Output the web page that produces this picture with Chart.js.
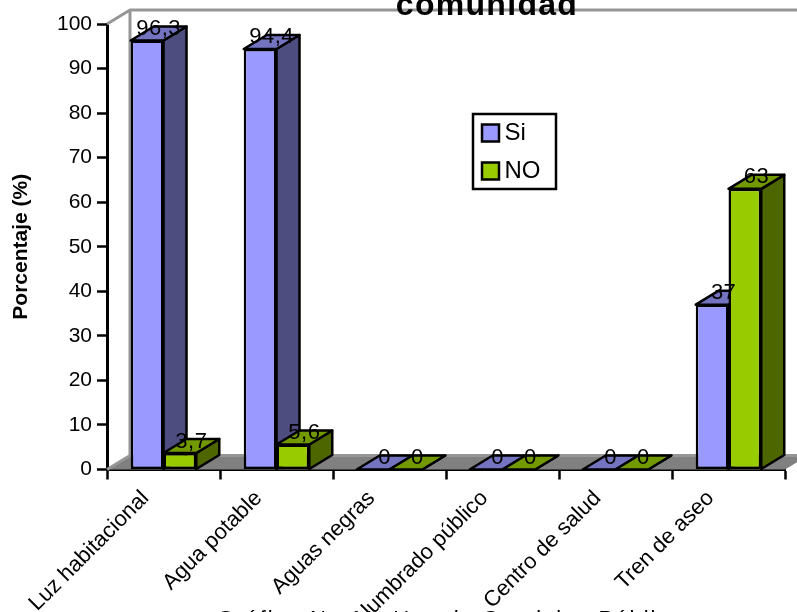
<!DOCTYPE html>
<html>
<head>
<meta charset="utf-8">
<script src="https://cdn.jsdelivr.net/npm/chart.js@4/dist/chart.umd.js"></script>
<style>
  body { margin: 0; background: #fff; }
  canvas { display: block; }
</style>
</head>
<body>
<canvas id="chart" width="797" height="612"></canvas>
<script>
const categories = ['Luz habitacional', 'Agua potable', 'Aguas negras', 'Alumbrado público', 'Centro de salud', 'Tren de aseo'];
const siValues = [96.3, 94.4, 0, 0, 0, 37];
const noValues = [3.7, 5.6, 0, 0, 0, 63];
const titleText = 'comunidad';
const captionText = 'Gráfico No 11. Uso de Servicios Públicos';
const yAxisText = 'Porcentaje (%)';

const FONT = '"Liberation Sans", Arial, sans-serif';
const DEPTH_X = 23;
const DEPTH_Y = 14;

function poly(ctx, pts, fill, stroke, width) {
    ctx.beginPath();
    pts.forEach((p, i) => i ? ctx.lineTo(p[0], p[1]) : ctx.moveTo(p[0], p[1]));
    ctx.closePath();
    if (fill) { ctx.fillStyle = fill; ctx.fill(); }
    if (stroke) { ctx.strokeStyle = stroke; ctx.lineWidth = width; ctx.stroke(); }
}

// Parois du fond, sol et faces 3D des barres
const box3d = {
    id: 'box3d',
    beforeDatasetsDraw(chart) {
        const ctx = chart.ctx;
        const a = chart.chartArea;
        const bottom = chart.scales.y.getPixelForValue(0);
        ctx.save();
        ctx.lineJoin = 'round';
        poly(ctx, [[a.left, bottom], [a.left + DEPTH_X, bottom - DEPTH_Y], [a.right + DEPTH_X, bottom - DEPTH_Y], [a.right, bottom]], '#808080');
        ctx.strokeStyle = '#969696';
        ctx.lineWidth = 3;
        ctx.beginPath();
        ctx.moveTo(a.left, a.top);
        ctx.lineTo(a.left + DEPTH_X, a.top - DEPTH_Y);
        ctx.lineTo(a.right + DEPTH_X, a.top - DEPTH_Y);
        ctx.moveTo(a.left + DEPTH_X, a.top - DEPTH_Y);
        ctx.lineTo(a.left + DEPTH_X, bottom - DEPTH_Y);
        ctx.lineTo(a.right + DEPTH_X, bottom - DEPTH_Y);
        ctx.moveTo(a.left + DEPTH_X, bottom - DEPTH_Y);
        ctx.lineTo(a.left, bottom);
        ctx.stroke();

        chart.data.datasets.forEach((ds, d) => {
            chart.getDatasetMeta(d).data.forEach(bar => {
                const l = bar.x - bar.width / 2;
                const r = bar.x + bar.width / 2;
                poly(ctx, [[r, bar.y], [r + DEPTH_X, bar.y - DEPTH_Y], [r + DEPTH_X, bar.base - DEPTH_Y], [r, bar.base]], ds.sideColor, '#000', 2.5);
                poly(ctx, [[l, bar.y], [l + DEPTH_X, bar.y - DEPTH_Y], [r + DEPTH_X, bar.y - DEPTH_Y], [r, bar.y]], ds.topColor, '#000', 2.5);
            });
        });
        ctx.restore();
    },
    afterDatasetsDraw(chart) {
        const ctx = chart.ctx;
        ctx.save();
        ctx.font = '22px ' + FONT;
        ctx.letterSpacing = '0.5px';
        ctx.fillStyle = '#000';
        ctx.textAlign = 'center';
        ctx.textBaseline = 'alphabetic';
        chart.data.datasets.forEach((ds, d) => {
            chart.getDatasetMeta(d).data.forEach((bar, i) => {
                const label = String(ds.data[i]).replace('.', ',');
                ctx.fillText(label, bar.x + DEPTH_X / 2, bar.y - 5.5);
            });
        });
        ctx.font = 'bold 32px ' + FONT;
        ctx.letterSpacing = '1.3px';
        ctx.fillText(titleText, 487, 15);
        ctx.textAlign = 'left';
        ctx.font = '22px ' + FONT;
        ctx.letterSpacing = '2px';
        ctx.fillText(captionText, 217, 626);
        ctx.restore();

        // Cadre de la légende
        ctx.save();
        ctx.strokeStyle = '#000';
        ctx.lineWidth = 2.5;
        ctx.strokeRect(473, 114, 83, 75);
        ctx.restore();
    },
    afterLayout(chart) {
        const lg = chart.legend;
        lg.left = 474.5;
        lg.top = 107;
        lg.right = 600;
        lg.bottom = 400;
    }
};

new Chart(document.getElementById('chart'), {
    type: 'bar',
    data: {
        labels: categories,
        datasets: [
            { label: 'Si', data: siValues, backgroundColor: '#9999FF', borderColor: '#000', borderWidth: 2.5, borderSkipped: false, topColor: '#7373BF', sideColor: '#4D4D80' },
            { label: 'NO', data: noValues, backgroundColor: '#99CC00', borderColor: '#000', borderWidth: 2.5, borderSkipped: false, topColor: '#739900', sideColor: '#4D6600' }
        ]
    },
    options: {
        responsive: false,
        animation: false,
        layout: { padding: { top: 24, right: 12, left: 0, bottom: 0 } },
        categoryPercentage: 0.58,
        barPercentage: 1,
        plugins: {
            tooltip: { enabled: false },
            legend: {
                position: 'chartArea',
                align: 'start',
                labels: {
                    usePointStyle: true,
                    pointStyle: 'rect',
                    boxWidth: 4,
                    boxHeight: 17,
                    padding: 14,
                    color: '#000',
                    font: { family: FONT, size: 24 }
                }
            }
        },
        scales: {
            x: {
                afterFit(scale) { scale.height = 142.5; },
                grid: { drawOnChartArea: false, tickLength: 10, tickColor: '#000', tickWidth: 2.5 },
                border: { color: '#000', width: 3 },
                ticks: {
                    color: '#000',
                    autoSkip: false,
                    minRotation: 45,
                    maxRotation: 45,
                    labelOffset: -18,
                    padding: 6,
                    font: { family: FONT, size: 22 }
                }
            },
            y: {
                min: 0,
                max: 100,
                afterFit(scale) { scale.width = 107; },
                grid: { drawOnChartArea: false, tickLength: 10, tickColor: '#000', tickWidth: 2.5 },
                border: { color: '#000', width: 3 },
                ticks: {
                    stepSize: 10,
                    color: '#000',
                    padding: 5,
                    font: { family: FONT, size: 21 }
                },
                title: {
                    display: true,
                    text: yAxisText,
                    color: '#000',
                    padding: { top: 9, bottom: 0 },
                    font: { family: FONT, size: 21, weight: 'bold' }
                }
            }
        }
    },
    plugins: [box3d]
});
</script>
</body>
</html>
